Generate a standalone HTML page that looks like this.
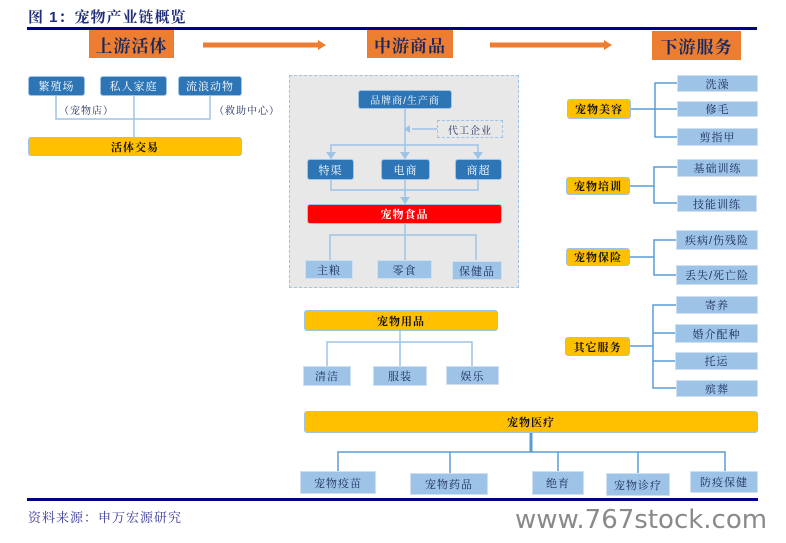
<!DOCTYPE html>
<html><head><meta charset="utf-8"><style>
body{margin:0;width:786px;height:543px;background:#fff;position:relative;overflow:hidden;font-family:"Liberation Sans","Noto Serif CJK SC","Noto Sans CJK SC",serif;}
.b{position:absolute;display:flex;align-items:center;justify-content:center;box-sizing:border-box;font-size:11px;color:#1a2a5e;white-space:nowrap;letter-spacing:1px;}
.d{background:#2e75b6;color:#fff;border:1px solid #9dc3e6;border-radius:3px;}
.l{background:#9dc3e6;border:1px solid #cfe0f0;}
.g{background:#ffc000;border:1px solid #9dc3e6;border-radius:3px;font-weight:bold;color:#111;}
.o{background:#ed7d31;font-size:17px;font-weight:bold;color:#1a2a5e;}
svg{position:absolute;left:0;top:0;}
</style></head><body>
<div class="b" style="left:28px;top:6px;font-size:15px;font-weight:bold;color:#1f2d7a;">图 1：宠物产业链概览</div>
<div style="position:absolute;left:27px;top:27px;width:730px;height:3px;background:#00008b"></div>
<div style="position:absolute;left:289px;top:75px;width:230px;height:213px;background:#e8e8e8;border:1px dashed #9dc3e6;box-sizing:border-box"></div>
<svg width="786" height="543">
<g stroke="#9dc3e6" stroke-width="1.5" fill="none">
<path d="M56 96V119H210V96M134 96V137"/>
<path d="M405 109V145M331 159V145H478V159M405 145V159M437 129H412"/>
<path d="M331 180V190H478V180M405 180V204"/>
<path d="M405 224V235H330V260M405 235V260M405 235H476V260"/>
<path d="M400 331V366M327 366V342H472V366"/>
</g>
<g fill="#9dc3e6"><path d="M326 152h10l-5 7zM400 152h10l-5 7zM473 152h10l-5 7zM400 197h10l-5 7zM410 125v8l-6-4z"/></g>
<g stroke="#5b9bd5" stroke-width="1.5" fill="none">
<path d="M631 109H655M677 83H655V137H677M655 109H677"/>
<path d="M630 186H654M677 167H654V203H677"/>
<path d="M630 257H654M677 240H654V275H677"/>
<path d="M630 346H653M677 305H653V388H677M653 333H677M653 361H677"/>
<path d="M531 433V452M338 471V452H725V471M450 452V473M558 452V471M638 452V473"/>
</g>
<path d="M531 433V452" stroke="#5b9bd5" stroke-width="3"/>
<g stroke="#ed7d31" stroke-width="5"><path d="M203 45H320M490 45H605"/></g>
<g fill="#ed7d31"><path d="M318 40l8 5-8 5zM604 40l8 5-8 5z"/></g>
</svg>
<div class="b o" style="left:89px;top:30px;width:85px;height:28px">上游活体</div>
<div class="b o" style="left:367px;top:30px;width:86px;height:28px">中游商品</div>
<div class="b o" style="left:652px;top:31px;width:89px;height:29px">下游服务</div>
<div class="b d" style="left:28px;top:76px;width:57px;height:20px">繁殖场</div>
<div class="b d" style="left:100px;top:76px;width:67px;height:20px">私人家庭</div>
<div class="b d" style="left:178px;top:76px;width:64px;height:20px">流浪动物</div>
<div class="b" style="left:59px;top:102px;font-size:10px">（宠物店）</div>
<div class="b" style="left:214px;top:102px;font-size:10px">（救助中心）</div>
<div class="b g" style="left:28px;top:137px;width:214px;height:19px">活体交易</div>
<div class="b d" style="left:358px;top:90px;width:94px;height:19px;font-size:10px">品牌商/生产商</div>
<div class="b" style="left:437px;top:120px;width:66px;height:18px;border:1px dashed #9dc3e6;font-size:10px">代工企业</div>
<div class="b d" style="left:307px;top:159px;width:47px;height:21px">特渠</div>
<div class="b d" style="left:381px;top:159px;width:49px;height:21px">电商</div>
<div class="b d" style="left:455px;top:159px;width:47px;height:21px">商超</div>
<div class="b" style="left:307px;top:204px;width:195px;height:20px;background:#f00;color:#fff;font-weight:bold;border-radius:3px;border:1px solid #9dc3e6">宠物食品</div>
<div class="b l" style="left:305px;top:260px;width:48px;height:19px">主粮</div>
<div class="b l" style="left:377px;top:260px;width:55px;height:19px">零食</div>
<div class="b l" style="left:452px;top:261px;width:50px;height:19px">保健品</div>
<div class="b g" style="left:567px;top:99px;width:64px;height:20px">宠物美容</div>
<div class="b l" style="left:677px;top:75px;width:81px;height:17px">洗澡</div>
<div class="b l" style="left:677px;top:101px;width:81px;height:16px">修毛</div>
<div class="b l" style="left:677px;top:128px;width:81px;height:18px">剪指甲</div>
<div class="b g" style="left:566px;top:177px;width:64px;height:18px">宠物培训</div>
<div class="b l" style="left:677px;top:159px;width:81px;height:18px">基础训练</div>
<div class="b l" style="left:677px;top:195px;width:80px;height:17px">技能训练</div>
<div class="b g" style="left:566px;top:248px;width:64px;height:18px">宠物保险</div>
<div class="b l" style="left:676px;top:230px;width:82px;height:20px">疾病/伤残险</div>
<div class="b l" style="left:676px;top:265px;width:82px;height:20px">丢失/死亡险</div>
<div class="b g" style="left:565px;top:337px;width:65px;height:19px">其它服务</div>
<div class="b l" style="left:676px;top:296px;width:82px;height:18px">寄养</div>
<div class="b l" style="left:675px;top:324px;width:83px;height:19px">婚介配种</div>
<div class="b l" style="left:675px;top:352px;width:83px;height:18px">托运</div>
<div class="b l" style="left:676px;top:380px;width:82px;height:17px">殡葬</div>
<div class="b g" style="left:304px;top:310px;width:194px;height:21px">宠物用品</div>
<div class="b l" style="left:303px;top:366px;width:48px;height:20px">清洁</div>
<div class="b l" style="left:373px;top:366px;width:54px;height:20px">服装</div>
<div class="b l" style="left:446px;top:366px;width:53px;height:19px">娱乐</div>
<div class="b g" style="left:304px;top:411px;width:454px;height:22px">宠物医疗</div>
<div class="b l" style="left:300px;top:471px;width:76px;height:23px">宠物疫苗</div>
<div class="b l" style="left:410px;top:473px;width:78px;height:22px">宠物药品</div>
<div class="b l" style="left:532px;top:471px;width:52px;height:24px">绝育</div>
<div class="b l" style="left:606px;top:473px;width:64px;height:23px">宠物诊疗</div>
<div class="b l" style="left:690px;top:471px;width:68px;height:22px">防疫保健</div>
<div style="position:absolute;left:27px;top:498px;width:731px;height:3px;background:#00008b"></div>
<div class="b" style="left:28px;top:507px;font-size:13px;color:#3a3a9a">资料来源：申万宏源研究</div>
<div class="b" style="left:515px;top:505px;font-size:26px;letter-spacing:0;color:#8a8a8a;font-family:'DejaVu Sans',sans-serif">www.767stock.com</div>
</body></html>
